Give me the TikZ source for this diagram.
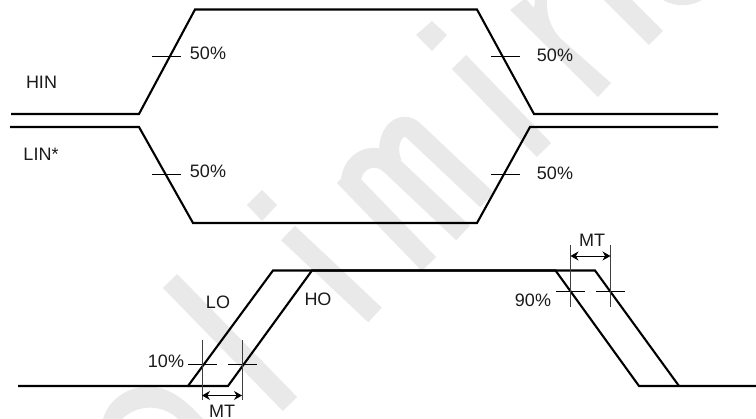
\documentclass[tikz,border=0pt]{standalone}
\usepackage{fontspec}
\setmainfont{Liberation Sans}
\usetikzlibrary{arrows.meta}
\definecolor{wm}{HTML}{E9E9E9}
\definecolor{lab}{HTML}{1A1A1A}
\tikzset{
  wave/.style={line width=2.1pt,black,line join=miter},
  tick/.style={line width=0.8pt,black},
  guide/.style={line width=0.8pt,black!75},
  span/.style={line width=0.9pt,black,{Stealth[length=8pt,width=9pt]}-{Stealth[length=8pt,width=9pt]}},
  wmark/.style={line width=20pt,wm},
  wfill/.style={fill=wm,draw=none},
  lbl/.style={inner sep=0pt,text=lab,font=\fontsize{18}{20}\selectfont}
}
\begin{document}
\begin{tikzpicture}[x=1pt,y=-1pt]
\useasboundingbox (0,0) rectangle (756,419);
\begin{scope}
\clip (0,0) rectangle (756,419);
% watermark
\fill[wfill] (103,419) .. controls (110,395) and (135,384) .. (155,387) .. controls (175,390) and (190,405) .. (203,419) -- (178,419) .. controls (165,406) and (140,402) .. (122,419) -- cycle;
\draw[wmark] (170,281) -- (290,404);
\fill[wfill] (247,205) -- (262,190) -- (277,205) -- (262,221) -- cycle;
\draw[wmark] (288,233) -- (375,315);
\draw[wmark] (344,176) -- (429,264);
\draw[wmark] (351,180) .. controls (353,160) and (375,150) .. (391,165) -- (463,233);
\draw[wmark] (392,163) .. controls (382,140) and (400,115) .. (416,133) -- (487,200);
\fill[wfill] (416,35) -- (432,21) -- (447,35) -- (432,51) -- cycle;
\draw[wmark] (459,62) -- (544,150);
\fill[wfill] (510,10) -- (523,0) -- (527,0) -- (534,8) -- (535,0) -- (547,0) .. controls (546,15) and (551,28) .. (560,38) -- (611,83) -- (598,97) -- cycle;
\draw[wmark] (610,-8) -- (656,38);
\fill[wfill] (663,0) .. controls (675,7) and (690,7) .. (702,0) -- cycle;
\end{scope}
% waveforms
\draw[wave] (11,114) -- (139,114) -- (195,9.5) -- (477,9.5) -- (534,114) -- (718,114);
\draw[wave] (10,127) -- (139,127) -- (193,223) -- (477,223) -- (530,127) -- (718,127);
\draw[wave] (18,386) -- (188,386) -- (273,270.5) -- (555.5,270.5) -- (639,386) -- (756,386);
\draw[wave] (188,386) -- (228,386) -- (312,270.5) -- (595,270.5) -- (679,386);
% 50 percent ticks
\draw[tick] (152,56) -- (181,56);
\draw[tick] (491,56) -- (520,56);
\draw[tick] (152,174) -- (181,174);
\draw[tick] (491,174) -- (520,174);
% lower ticks
\draw[tick] (188,364) -- (217,364);
\draw[tick] (228,364) -- (257,364);
\draw[tick] (556,291.7) -- (585,291.7);
\draw[tick] (596,291.7) -- (625,291.7);
\draw[guide] (202,340) -- (202,400);
\draw[guide] (242,340) -- (242,400);
\draw[guide] (570.5,245) -- (570.5,307);
\draw[guide] (610.5,245) -- (610.5,307);
% spans
\coordinate (mtal) at (202,395.5);
\coordinate (mtar) at (242,395.5);
\coordinate (mtbl) at (570.5,256);
\coordinate (mtbr) at (610.5,256);
\draw[span] (mtal) -- (mtar);
\draw[span] (mtbl) -- (mtbr);
% labels
\node[lbl] (hin) at (41.5,82) {HIN};
\node[lbl] (lin) at (41,154) {LIN*};
\node[lbl] (p1) at (208,53.5) {50\%};
\node[lbl] (p2) at (555,55.5) {50\%};
\node[lbl] (p3) at (208,171) {50\%};
\node[lbl] (p4) at (555,173.5) {50\%};
\node[lbl] (lo) at (218,302) {LO};
\node[lbl] (ho) at (318,299) {HO};
\node[lbl] (p10) at (166,361) {10\%};
\node[lbl] (p90) at (533,300) {90\%};
\node[lbl] (mt1) at (222,411) {MT};
\node[lbl] (mt2) at (592,240) {MT};
\end{tikzpicture}
\end{document}
